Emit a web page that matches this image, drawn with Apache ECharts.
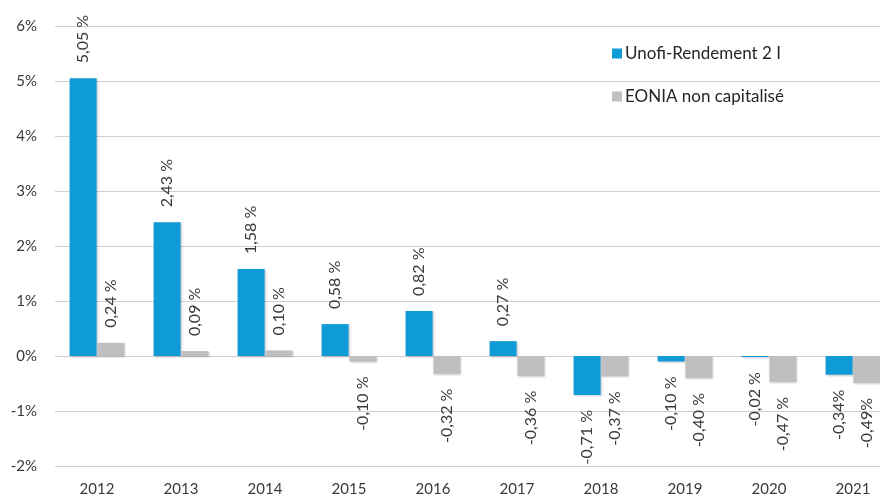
<!DOCTYPE html>
<html><head><meta charset="utf-8">
<script src="https://cdn.jsdelivr.net/npm/echarts@6/dist/echarts.min.js"></script>
<style>html,body{margin:0;padding:0;background:#fff;overflow:hidden}#c{width:895px;height:500px}</style>
</head><body><div id="c"></div>
<script>
const categories = ['2012','2013','2014','2015','2016','2017','2018','2019','2020','2021'];
const seriesNames = ['Unofi-Rendement 2 I','EONIA non capitalisé'];
const unofiValues = [5.05, 2.43, 1.58, 0.58, 0.82, 0.27, -0.71, -0.10, -0.02, -0.34];
const eoniaValues = [0.24, 0.09, 0.10, -0.10, -0.32, -0.36, -0.37, -0.40, -0.47, -0.49];
const unofiLabels = ['5,05 %','2,43 %','1,58 %','0,58 %','0,82 %','0,27 %','-0,71 %','-0,10 %','-0,02 %','-0,34%'];
const eoniaLabels = ['0,24 %','0,09 %','0,10 %','-0,10 %','-0,32 %','-0,36 %','-0,37 %','-0,40 %','-0,47 %','-0,49%'];
const yTicks = [-2, -1, 0, 1, 2, 3, 4, 5, 6];

const FONT = 'Lato';
function buildData(vals, labels) {
  return vals.map((v, i) => ({
    value: v,
    label: v >= 0
      ? { position: 'top', align: 'left', verticalAlign: 'middle', formatter: labels[i] }
      : { position: 'bottom', align: 'right', verticalAlign: 'middle', formatter: labels[i] }
  }));
}
const labelBase = { show: true, rotate: 90, distance: 15, color: '#3a3a3a', fontSize: 16, fontFamily: FONT };

const chart = echarts.init(document.getElementById('c'));
chart.setOption({
  animation: false,
  backgroundColor: '#fff',
  grid: { left: 55, top: 26, right: 0, bottom: 34, containLabel: false },
  legend: {
    orient: 'vertical', left: 607, top: 40, itemWidth: 10, itemHeight: 10, itemGap: 26,
    icon: 'rect',
    textStyle: { fontSize: 17, color: '#262626', fontFamily: FONT, padding: [0, 0, 0, -2] },
    data: seriesNames
  },
  xAxis: {
    type: 'category', data: categories,
    axisLine: { show: false }, axisTick: { show: false },
    axisLabel: { color: '#3a3a3a', fontSize: 15, fontFamily: FONT, margin: 16 }
  },
  yAxis: {
    type: 'value', min: yTicks[0], max: yTicks[yTicks.length - 1], interval: 1,
    axisLine: { show: false }, axisTick: { show: false },
    axisLabel: { color: '#3a3a3a', fontSize: 15, fontFamily: FONT, margin: 18, formatter: v => v + '%' },
    splitLine: { lineStyle: { color: '#cfcfcf', width: 1 } }
  },
  series: [
    {
      name: seriesNames[0], type: 'bar', data: buildData(unofiValues, unofiLabels),
      barWidth: 27, barGap: '3%',
      itemStyle: { color: '#0e9bd6', shadowBlur: 2, shadowColor: 'rgba(0,0,0,0.2)', shadowOffsetX: 1, shadowOffsetY: 1 },
      label: labelBase
    },
    {
      name: seriesNames[1], type: 'bar', data: buildData(eoniaValues, eoniaLabels),
      barWidth: 27, barGap: '3%',
      itemStyle: { color: '#bfbfbf', shadowBlur: 2, shadowColor: 'rgba(0,0,0,0.2)', shadowOffsetX: 1, shadowOffsetY: 1 },
      label: labelBase
    }
  ]
});
</script></body></html>
